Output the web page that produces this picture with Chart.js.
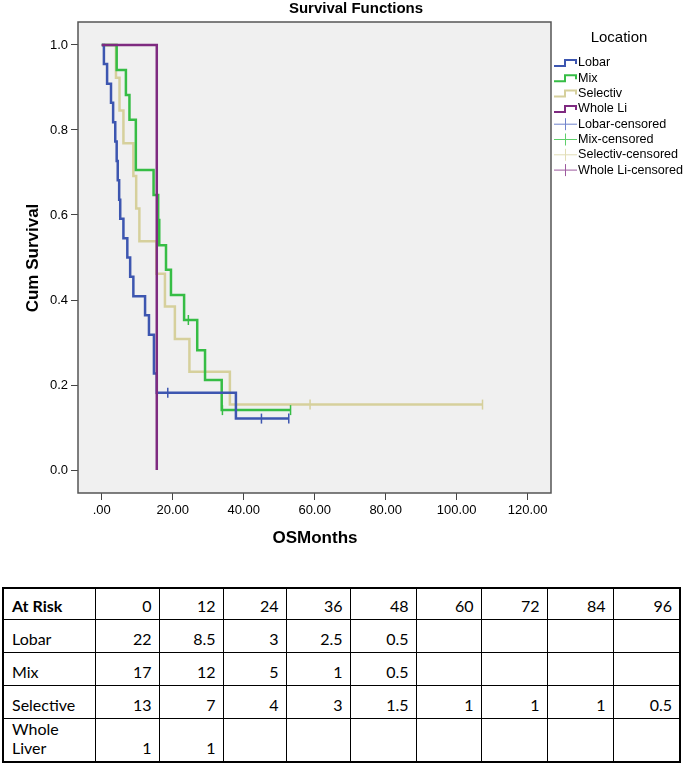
<!DOCTYPE html>
<html>
<head>
<meta charset="utf-8">
<script src="https://cdn.jsdelivr.net/npm/chart.js@4.4.0/dist/chart.umd.min.js"></script>
<style>
body { margin:0; background:#fff; width:685px; height:763px; position:relative; overflow:hidden; }
#chart { position:absolute; left:0; top:0; }
table { position:absolute; left:2px; top:587px; width:679px; border-collapse:collapse; table-layout:fixed;
        font-family: Lato, "Open Sans", sans-serif; font-size:16px; line-height:19px; border:2px solid #000; color:#000; }
td { border:1px solid #000; text-align:right; vertical-align:bottom; padding:0 7px 4px 7px; }
td.lab { text-align:left; padding-left:8px; }
</style>
</head>
<body>
<canvas id="chart" width="685" height="560"></canvas>
<table id="risk"></table>
<script>
// survival curves (time in months, cumulative survival after each step)
const lobarTime = [0, 0.6, 1.5, 2.6, 3.2, 3.8, 4.2, 4.5, 4.9, 5.2, 6.1, 7.2, 8.0, 8.9, 12.2, 13.3, 14.7, 15.5, 37.8, 52.7];
const lobarSurv = [1, .955, .909, .864, .818, .773, .727, .682, .636, .591, .545, .5, .455, .409, .364, .318, .227, .182, .121, .121];
const mixTime = [0, 4.2, 6.8, 7.8, 9.6, 14.6, 15.9, 16.2, 18.1, 19.5, 23.2, 26.9, 29.1, 33.8, 53.2];
const mixSurv = [1, .941, .882, .824, .706, .647, .588, .529, .471, .412, .353, .282, .212, .141, .141];
const selTime = [0, 4.0, 5.0, 6.1, 8.9, 9.7, 10.6, 15.4, 17.8, 20.6, 24.7, 36.1, 107.3];
const selSurv = [1, .923, .846, .769, .692, .615, .538, .462, .385, .308, .231, .154, .154];
const wholeTime = [0, 15.5];
const wholeSurv = [1, 0];

// censored observations
const lobarCensT = [18.6, 45.0, 52.7];
const lobarCensS = [.182, .121, .121];
const mixCensT = [24.4, 34.0, 53.2];
const mixCensS = [.353, .141, .141];
const selCensT = [58.7, 107.3];
const selCensS = [.154, .154];

const xTicks = [0, 20, 40, 60, 80, 100, 120];
const yTicks = [0, 0.2, 0.4, 0.6, 0.8, 1.0];

const legendNames = ['Lobar', 'Mix', 'Selectiv', 'Whole Li'];

// at risk table
const riskTimes = [0, 12, 24, 36, 48, 60, 72, 84, 96];
const riskLobar = ['22', '8.5', '3', '2.5', '0.5', '', '', '', ''];
const riskMix = ['17', '12', '5', '1', '0.5', '', '', '', ''];
const riskSel = ['13', '7', '4', '3', '1.5', '1', '1', '1', '0.5'];
const riskWhole = ['1', '1', '', '', '', '', '', '', ''];

const colors = ['#3D56B0', '#36BD45', '#D6D09C', '#7E2A80'];
const censColors = ['#6F83CC', '#5FCF6B', '#E2DDB6', '#9C5A9E'];

function pts(xs, ys) { return xs.map((x, i) => ({x: x, y: ys[i]})); }

function curve(label, xs, ys, c, order) {
  return { type:'line', label: label, data: pts(xs, ys), borderColor: c, borderWidth: 2.5,
           stepped: true, pointRadius: 0, fill: false, order: order };
}
function cens(label, xs, ys, c) {
  return { type:'scatter', label: label, data: pts(xs, ys), borderColor: c, backgroundColor: c,
           pointStyle: 'line', rotation: 90, pointRadius: 5, borderWidth: 1.5, order: -1 };
}

const frame = {
  id: 'frame',
  beforeDraw(chart) {
    const a = chart.chartArea, c = chart.ctx;
    c.save();
    c.fillStyle = '#F0F0F0';
    c.fillRect(a.left, a.top, a.right - a.left, a.bottom - a.top);
    c.restore();
  },
  afterDraw(chart) {
    const a = chart.chartArea, c = chart.ctx;
    c.save();
    c.strokeStyle = '#555';
    c.lineWidth = 1.5;
    c.strokeRect(a.left, a.top, a.right - a.left, a.bottom - a.top);

    c.fillStyle = '#000';
    c.font = 'bold 15px "Liberation Sans", Arial, sans-serif';
    c.textAlign = 'center';
    c.textBaseline = 'alphabetic';
    c.fillText('Survival Functions', 356, 13);

    c.font = 'bold 17px "Liberation Sans", Arial, sans-serif';
    c.textBaseline = 'middle';
    c.fillText('OSMonths', 315, 538);
    c.save();
    c.translate(33, 258);
    c.rotate(-Math.PI / 2);
    c.fillText('Cum Survival', 0, 0);
    c.restore();

    // legend
    c.font = '15px "Liberation Sans", Arial, sans-serif';
    c.fillText('Location', 619, 38);
    c.font = '12.6px "Liberation Sans", Arial, sans-serif';
    c.textAlign = 'left';
    for (let i = 0; i < 8; i++) {
      const y = 63 + i * 15.3;
      const k = i % 4;
      c.beginPath();
      if (i < 4) {
        c.strokeStyle = colors[k];
        c.lineWidth = 2;
        c.moveTo(554, y + 3); c.lineTo(565, y + 3); c.lineTo(565, y - 3);
        c.lineTo(576, y - 3); c.lineTo(576, y + 1);
      } else {
        c.strokeStyle = censColors[k];
        c.lineWidth = 1;
        c.moveTo(554, y); c.lineTo(577, y);
        c.moveTo(565.5, y - 6); c.lineTo(565.5, y + 6);
      }
      c.stroke();
      c.fillStyle = '#000';
      c.fillText(legendNames[k] + (i < 4 ? '' : '-censored'), 578, y);
    }
    c.restore();
  }
};

new Chart(document.getElementById('chart'), {
  data: {
    datasets: [
      curve('Whole Li', wholeTime, wholeSurv, colors[3], 0),
      curve('Lobar', lobarTime, lobarSurv, colors[0], 1),
      curve('Mix', mixTime, mixSurv, colors[1], 2),
      curve('Selectiv', selTime, selSurv, colors[2], 3),
      cens('Lobar-censored', lobarCensT, lobarCensS, colors[0]),
      cens('Mix-censored', mixCensT, mixCensS, colors[1]),
      cens('Selectiv-censored', selCensT, selCensS, colors[2])
    ]
  },
  options: {
    responsive: false,
    animation: false,
    devicePixelRatio: 1,
    layout: { padding: { left: 0, right: 134, top: 22, bottom: 0 } },
    plugins: { legend: { display: false }, tooltip: { enabled: false } },
    scales: {
      x: {
        type: 'linear', min: -6.7, max: 126.6,
        afterBuildTicks: s => { s.ticks = xTicks.map(v => ({value: v})); },
        afterFit: s => { s.height = 67; },
        grid: { drawOnChartArea: false, drawTicks: true, tickLength: 7, color: '#444' },
        border: { display: false },
        ticks: { color: '#000', padding: 3, maxRotation: 0,
                 font: { family: '"Liberation Sans", Arial, sans-serif', size: 13 },
                 callback: v => v === 0 ? '.00' : v.toFixed(2) }
      },
      y: {
        type: 'linear', min: -0.054, max: 1.054,
        afterBuildTicks: s => { s.ticks = yTicks.map(v => ({value: v})); },
        afterFit: s => { s.width = 78; },
        grid: { drawOnChartArea: false, drawTicks: true, tickLength: 7, color: '#444' },
        border: { display: false },
        ticks: { color: '#000', padding: 3,
                 font: { family: '"Liberation Sans", Arial, sans-serif', size: 13 },
                 callback: v => v.toFixed(1) }
      }
    }
  },
  plugins: [frame]
});

// at risk table
const widths = [92, 64, 64, 63, 64, 66, 65, 66, 66, 67];
const heights = [31, 33, 33, 33, 41];
const tbl = document.getElementById('risk');
let html = '<colgroup>' + widths.map(w => '<col style="width:' + w + 'px">').join('') + '</colgroup>';
const rows = [
  ['<b>At Risk</b>', riskTimes.map(String)],
  ['Lobar', riskLobar],
  ['Mix', riskMix],
  ['Selective', riskSel],
  ['Whole<br>Liver', riskWhole]
];
rows.forEach((r, i) => {
  html += '<tr style="height:' + heights[i] + 'px"><td class="lab">' + r[0] + '</td>' +
          r[1].map(v => '<td>' + v + '</td>').join('') + '</tr>';
});
tbl.innerHTML = html;
</script>
</body>
</html>
